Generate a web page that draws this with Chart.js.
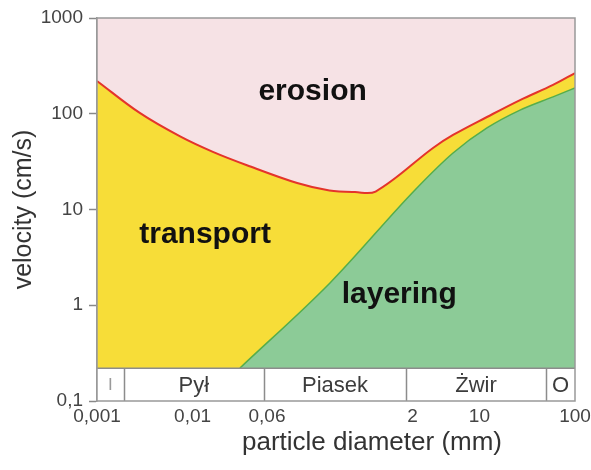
<!DOCTYPE html>
<html>
<head>
<meta charset="utf-8">
<script src="https://cdn.jsdelivr.net/npm/chart.js@4.4.1/dist/chart.umd.min.js"></script>
<style>
  html, body { margin: 0; padding: 0; background: #fff; }
</style>
</head>
<body>
<canvas id="hjulstrom" width="591" height="470"></canvas>
<script>
// erosion threshold (red curve)
const erosionX = [0.001, 0.0028, 0.0074, 0.0163, 0.037, 0.124, 0.27, 0.5, 0.82, 3.27, 5.3, 12, 26.6, 58.9, 100];
const erosionY = [220, 102, 58, 40, 29, 18.9, 15.8, 15.2, 15.4, 43.9, 60, 92.5, 139, 200, 266];

// deposition threshold (green curve)
const depositX = [0.0313, 0.2735, 2.12, 5.3, 12, 26.6, 58.9, 100];
const depositY = [0.221, 1.71, 16.0, 38.9, 71, 109, 150, 186];

// grain size classes shown in the strip under the plot
const classNames = ['I', 'Pył', 'Piasek', 'Żwir', 'O'];
const classEdges = [0.001, 0.0019, 0.056, 1.7, 50, 100];
const bandTop = 0.22;

const xTickValues = [0.001, 0.01, 0.06, 2, 10, 100];
const xTickLabels = ['0,001', '0,01', '0,06', '2', '10', '100'];
const yTickValues = [0.1, 1, 10, 100, 1000];
const yTickLabels = ['0,1', '1', '10', '100', '1000'];

const zoneNames = ['erosion', 'transport', 'layering'];
const zoneX = [0.18, 0.0135, 1.45];
const zoneY = [170, 5.4, 1.3];

const FONT = '"Liberation Sans", Arial, sans-serif';

function toPoints(xs, ys) {
  return xs.map((v, i) => ({ x: v, y: ys[i] }));
}

const overlay = {
  id: 'overlay',
  afterDatasetsDraw(chart) {
    const { ctx, chartArea: a, scales: { x, y } } = chart;
    const top = y.getPixelForValue(bandTop);
    ctx.save();

    // white strip with class boxes
    ctx.fillStyle = '#fff';
    ctx.fillRect(a.left, top, a.right - a.left, a.bottom - top);
    ctx.strokeStyle = '#8c8c8c';
    ctx.lineWidth = 1.5;
    ctx.beginPath();
    ctx.moveTo(a.left, top);
    ctx.lineTo(a.right, top);
    classEdges.slice(1, -1).forEach(v => {
      const px = Math.round(x.getPixelForValue(v)) + 0.5;
      ctx.moveTo(px, top);
      ctx.lineTo(px, a.bottom);
    });
    ctx.stroke();

    ctx.textAlign = 'center';
    ctx.textBaseline = 'middle';
    classNames.forEach((name, i) => {
      const cx = (x.getPixelForValue(classEdges[i]) + x.getPixelForValue(classEdges[i + 1])) / 2;
      ctx.fillStyle = name === 'I' ? '#9a9a9a' : '#3c3c3c';
      ctx.font = (name === 'I' ? '17px ' : '22px ') + FONT;
      ctx.fillText(name, cx, (top + a.bottom) / 2 + 1);
    });

    // frame
    ctx.strokeStyle = '#999';
    ctx.lineWidth = 1.5;
    ctx.strokeRect(a.left, a.top, a.right - a.left, a.bottom - a.top);

    // zone names
    ctx.fillStyle = '#111';
    ctx.font = 'bold 30px ' + FONT;
    zoneNames.forEach((t, i) => {
      ctx.fillText(t, x.getPixelForValue(zoneX[i]), y.getPixelForValue(zoneY[i]));
    });

    // x axis title
    ctx.fillStyle = '#333';
    ctx.font = '26px ' + FONT;
    ctx.fillText('particle diameter (mm)', 372, 443);
    ctx.restore();
  }
};

const chart = new Chart(document.getElementById('hjulstrom'), {
  type: 'line',
  data: {
    datasets: [
      {
        label: 'erosion',
        data: toPoints(erosionX, erosionY),
        borderColor: '#e4342b',
        borderWidth: 2,
        backgroundColor: '#f6e2e5',
        fill: 'end',
        tension: 0.35,
        pointRadius: 0
      },
      {
        label: 'deposition',
        data: toPoints(depositX, depositY),
        borderColor: '#55ad4c',
        borderWidth: 1.5,
        backgroundColor: '#8ccb97',
        fill: 'start',
        cubicInterpolationMode: 'monotone',
        pointRadius: 0
      },
      {
        label: 'transport',
        data: toPoints(erosionX, erosionY),
        borderWidth: 0,
        borderColor: 'rgba(0,0,0,0)',
        backgroundColor: '#f7dd38',
        fill: 'start',
        tension: 0.35,
        pointRadius: 0
      }
    ]
  },
  options: {
    responsive: false,
    animation: false,
    layout: { padding: { top: 18, right: 16, left: 0, bottom: 0 } },
    plugins: { legend: { display: false }, tooltip: { enabled: false } },
    scales: {
      x: {
        type: 'logarithmic',
        min: 0.001,
        max: 100,
        afterFit: s => { s.height = 69; s.paddingLeft = 0; s.paddingRight = 0; },
        afterBuildTicks: s => { s.ticks = xTickValues.map(v => ({ value: v })); },
        grid: { display: false, drawTicks: false },
        border: { display: false },
        ticks: {
          padding: 4,
          maxRotation: 0,
          autoSkip: false,
          color: '#444',
          font: { family: FONT, size: 19 },
          callback: (v, i) => xTickLabels[i]
        }
      },
      y: {
        type: 'logarithmic',
        min: 0.1,
        max: 1000,
        afterFit: s => { s.width = 97; s.paddingTop = 0; s.paddingBottom = 0; },
        afterBuildTicks: s => { s.ticks = yTickValues.map(v => ({ value: v })); },
        grid: { drawOnChartArea: false, tickLength: 8, color: '#888', tickWidth: 1.5 },
        border: { display: true, color: '#999', width: 1.5 },
        ticks: {
          padding: 6,
          autoSkip: false,
          color: '#444',
          font: { family: FONT, size: 19 },
          callback: (v, i) => yTickLabels[i]
        },
        title: {
          display: true,
          text: 'velocity (cm/s)',
          color: '#333',
          font: { family: FONT, size: 25, lineHeight: 1 },
          padding: { top: 12, bottom: 0 }
        }
      }
    }
  },
  plugins: [overlay]
});
</script>
</body>
</html>
